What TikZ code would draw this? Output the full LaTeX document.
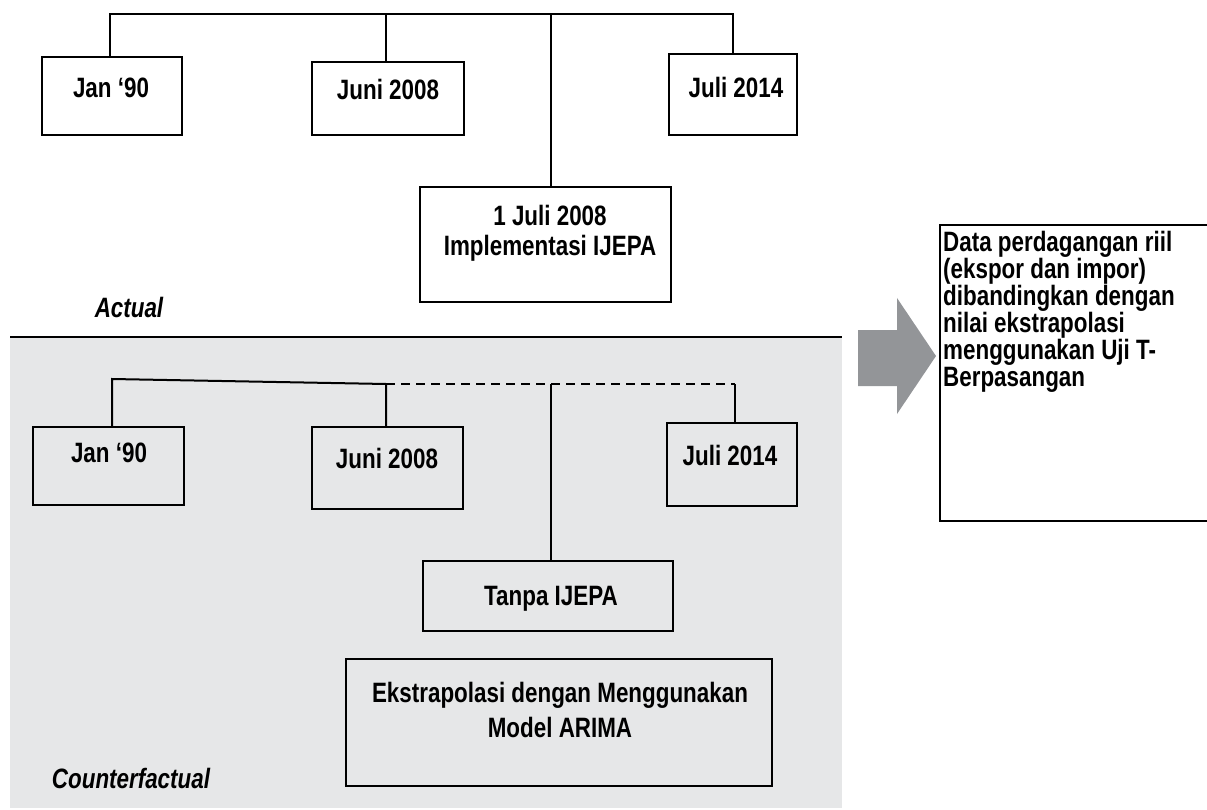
\documentclass[tikz,border=0pt]{standalone}
\usepackage{fontspec}
\setmainfont{Liberation Sans}[FakeStretch=0.8]
\definecolor{cfgray}{HTML}{E6E7E8}
\definecolor{arrgray}{HTML}{939598}
\begin{document}
\begin{tikzpicture}[x=1pt,y=-1pt,
  box/.style={draw=black, line width=2pt, inner sep=0pt},
  conn/.style={draw=black, line width=2pt, line join=miter},
  dconn/.style={conn, dash pattern=on 9pt off 6pt},
  lbl/.style={font=\fontsize{28}{30}\selectfont\bfseries, inner sep=0pt, anchor=base},
  ilbl/.style={font=\fontsize{28}{30}\selectfont\bfseries\itshape, inner sep=0pt, anchor=base}]
\useasboundingbox (0,0) rectangle (1207,810);
% counterfactual background
\fill[cfgray] (10,337) rectangle (842,808);
\draw[line width=2.5pt] (10,337) -- (842,337);
% ---------- actual ----------
\node[box, minimum width=140pt, minimum height=78pt] (jan1) at (112,96) {};
\node[box, minimum width=152pt, minimum height=73pt] (jun1) at (388,98.5) {};
\node[box, minimum width=128pt, minimum height=81pt] (jul1) at (733,94.5) {};
\node[box, minimum width=251pt, minimum height=115pt] (impl) at (545.5,244.5) {};
\node[lbl] (tjan1) at (111,98) {Jan ‘90};
\node[lbl] (tjun1) at (388,100) {Juni 2008};
\node[lbl] (tjul1) at (736,98) {Juli 2014};
\node[font=\fontsize{28}{30}\selectfont\bfseries, inner sep=0pt, align=center] (timpl) at (550,233) {1 Juli 2008\\Implementasi IJEPA};
\coordinate (topbar) at (0,14);
\coordinate (iv) at (551,187);
\draw[conn] ([xshift=-2pt]jan1.north) -- ([xshift=-2pt]jan1.north |- topbar) -- (jul1.north |- topbar) -- (jul1.north);
\draw[conn] ([xshift=-2pt]jun1.north) -- ([xshift=-2pt]jun1.north |- topbar);
\draw[conn] (iv) -- (iv |- topbar);
\node[ilbl] (tact) at (129,317) {Actual};
% ---------- counterfactual ----------
\node[box, minimum width=151pt, minimum height=78pt] (jan2) at (108.5,466) {};
\node[box, minimum width=151pt, minimum height=82pt] (jun2) at (387.5,468) {};
\node[box, minimum width=130pt, minimum height=83pt] (jul2) at (732,464.5) {};
\node[box, minimum width=250pt, minimum height=70pt] (tanpa) at (548,596) {};
\node[box, minimum width=426pt, minimum height=127pt] (ekstra) at (559,722.5) {};
\node[lbl] (tjan2) at (109,462) {Jan ‘90};
\node[lbl] (tjun2) at (387,468) {Juni 2008};
\node[lbl] (tjul2) at (730,465) {Juli 2014};
\node[lbl] (ttanpa) at (551,605) {Tanpa IJEPA};
\node[font=\fontsize{28}{35.6}\selectfont\bfseries, inner sep=0pt, align=center] (tekstra) at (560,710) {Ekstrapolasi dengan Menggunakan\\Model ARIMA};
\coordinate (c1) at (112,379);
\coordinate (c2) at (386,384);
\coordinate (c3) at (735,384);
\coordinate (c4) at (551,384);
\draw[conn] (c1 |- jan2.north) -- (c1) -- (c2) -- (c2 |- jun2.north);
\draw[dconn] (c2) -- (c3);
\draw[conn] (c3) -- (c3 |- jul2.north);
\draw[conn] (c4) -- (c4 |- tanpa.north);
\node[ilbl] (tcf) at (131,788) {Counterfactual};
% ---------- arrow and result ----------
\fill[arrgray] (858,330) -- (897,330) -- (897,298) -- (936,356) -- (897,414) -- (897,386) -- (858,386) -- cycle;
\node[box, anchor=north west, minimum width=280pt, minimum height=296pt] (res) at (939,224) {};
\node[font=\fontsize{28}{27}\selectfont\bfseries, inner sep=0pt, align=left, anchor=north west] (tres) at (943,230.6) {Data perdagangan riil\\(ekspor dan impor)\\dibandingkan dengan\\nilai ekstrapolasi\\menggunakan Uji T-\\Berpasangan};
\end{tikzpicture}
\end{document}
